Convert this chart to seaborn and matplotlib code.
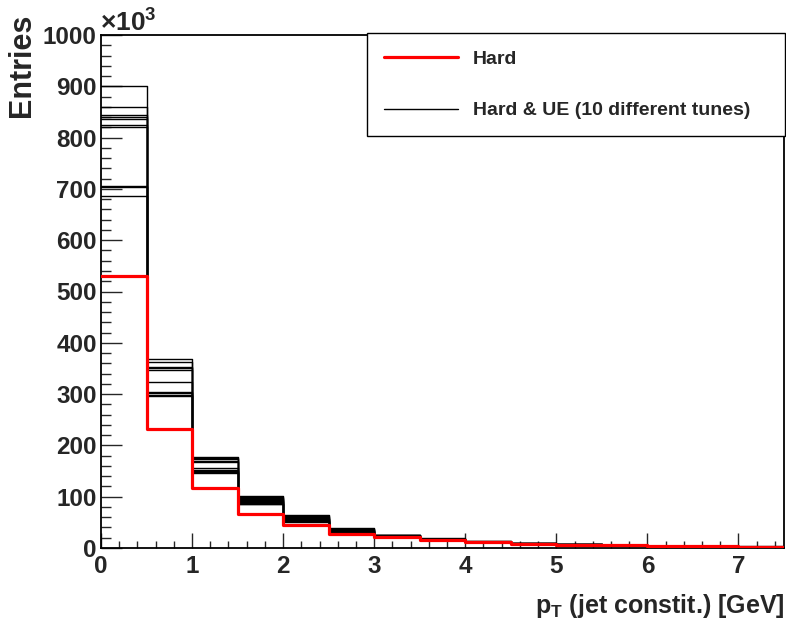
import numpy as np
import pandas as pd
import matplotlib
matplotlib.use("Agg")
import matplotlib.pyplot as plt
from matplotlib.ticker import MultipleLocator, FixedLocator, FixedFormatter
from matplotlib.lines import Line2D
import seaborn as sns

# ---------------- data (entries in units of 10^3) ----------------
bin_edges = [0.0, 0.5, 1.0, 1.5, 2.0, 2.5, 3.0, 3.5, 4.0, 4.5, 5.0, 5.5, 6.0, 6.5, 7.0, 7.5]

hard = [530, 231, 117, 67, 45, 28, 21, 15.5, 11, 7.5, 6, 5, 4, 3, 2.2]

tune_01 = [900, 368, 177, 101, 64, 39, 26.0, 19.0, 13.0, 9.5, 7.5, 6.0, 4.8, 3.8, 3.0]
tune_02 = [860, 362, 175, 99, 62, 38, 25.5, 18.5, 13.0, 9.5, 7.5, 6.0, 4.6, 3.7, 2.9]
tune_03 = [845, 353, 173, 97, 60, 37, 25.0, 18.0, 12.5, 9.0, 7.0, 5.5, 4.5, 3.6, 2.9]
tune_04 = [841, 350, 170, 95, 59, 36, 24.5, 18.0, 12.5, 9.0, 7.0, 5.5, 4.4, 3.5, 2.8]
tune_05 = [836, 347, 168, 93, 57, 35, 24.0, 17.5, 12.0, 9.0, 7.0, 5.5, 4.3, 3.5, 2.8]
tune_06 = [824, 323, 155, 91, 56, 34, 23.5, 17.5, 12.0, 8.5, 7.0, 5.5, 4.3, 3.4, 2.7]
tune_07 = [820, 305, 153, 89, 55, 33, 23.0, 17.0, 12.0, 8.5, 6.5, 5.5, 4.2, 3.4, 2.7]
tune_08 = [706, 302, 150, 87, 53, 33, 22.5, 17.0, 11.5, 8.5, 6.5, 5.0, 4.2, 3.3, 2.6]
tune_09 = [703, 299, 148, 86, 52, 32, 22.0, 16.5, 11.5, 8.0, 6.5, 5.0, 4.1, 3.3, 2.6]
tune_10 = [686, 297, 146, 85, 51, 32, 22.0, 16.5, 11.5, 8.0, 6.5, 5.0, 4.1, 3.2, 2.5]

y_ticks = [0, 100, 200, 300, 400, 500, 600, 700, 800, 900, 1000]
x_ticks = [0, 1, 2, 3, 4, 5, 6, 7]

legend_labels = ["Hard", "Hard & UE (10 different tunes)"]
x_title = r"$\mathbf{p_{T}}$ (jet constit.) [GeV]"
y_title = "Entries"

# ---------------- build tables ----------------
edges = np.array(bin_edges)
centers = 0.5 * (edges[:-1] + edges[1:])
tunes = [tune_01, tune_02, tune_03, tune_04, tune_05,
         tune_06, tune_07, tune_08, tune_09, tune_10]
rows = []
for i, t in enumerate(tunes):
    for c, v in zip(centers, t):
        rows.append({"pt": c, "entries": v, "tune": f"tune {i+1}"})
df_tunes = pd.DataFrame(rows)
df_hard = pd.DataFrame({"pt": centers, "entries": hard})

# ---------------- style ----------------
sns.set_style("white")
plt.rcParams["font.family"] = ["Liberation Sans", "DejaVu Sans"]
plt.rcParams["font.weight"] = "bold"
plt.rcParams["mathtext.fontset"] = "custom"
plt.rcParams["mathtext.rm"] = "Liberation Sans:bold"
plt.rcParams["mathtext.bf"] = "Liberation Sans:bold"
plt.rcParams["mathtext.it"] = "Liberation Sans:bold"

W, H = 786, 624
fig = plt.figure(figsize=(W / 100, H / 100), dpi=100)
ax = fig.add_axes([101 / W, (H - 548) / H, (784 - 101) / W, (548 - 35) / H])

sns.histplot(data=df_tunes, x="pt", weights="entries", hue="tune", bins=bin_edges,
             element="step", fill=False, palette=["black"] * len(tunes),
             legend=False, linewidth=1.0, ax=ax)
sns.histplot(data=df_hard, x="pt", weights="entries", bins=bin_edges,
             element="step", fill=False, color="#ff0000", linewidth=2.3, ax=ax,
             zorder=5)

ax.set_xlim(0, 7.5)
ax.set_ylim(0, 1000)
ax.set_xlabel("")
ax.set_ylabel("")

ax.yaxis.set_major_locator(FixedLocator(y_ticks))
ax.yaxis.set_major_formatter(FixedFormatter([str(v) for v in y_ticks]))
ax.yaxis.set_minor_locator(MultipleLocator(20))
ax.xaxis.set_major_locator(FixedLocator(x_ticks))
ax.xaxis.set_major_formatter(FixedFormatter([str(v) for v in x_ticks]))
ax.xaxis.set_minor_locator(MultipleLocator(0.2))

ax.tick_params(axis="y", which="major", direction="in", length=14.8, width=1.0,
               labelsize=17.5, pad=3, left=True, right=False)
ax.tick_params(axis="y", which="minor", direction="in", length=7.4, width=1.0,
               left=True, right=False)
ax.tick_params(axis="x", which="major", direction="in", length=10.8, width=1.0,
               labelsize=17.5, pad=5, bottom=True, top=False)
ax.tick_params(axis="x", which="minor", direction="in", length=5.4, width=1.0,
               bottom=True, top=False)
for lab in ax.get_xticklabels() + ax.get_yticklabels():
    lab.set_fontweight("bold")

for s in ax.spines.values():
    s.set_color("black")
    s.set_linewidth(1.3)
    s.set_visible(True)

# axis titles and exponent
fig.text(22 / W, 1 - 14 / H, y_title, rotation=90, ha="center", va="top",
         fontsize=22, fontweight="bold")
fig.text(785 / W, (H - 613) / H, x_title, ha="right", va="baseline",
         fontsize=18, fontweight="bold")
fig.text(100 / W, (H - 32) / H, r"$\times10^{3}$", ha="left", va="baseline",
         fontsize=19)

# legend
handles = [Line2D([], [], color="#ff0000", lw=2.3),
           Line2D([], [], color="black", lw=1.0)]
leg = ax.legend(handles, legend_labels, loc="upper left",
                bbox_to_anchor=(0.3895, 0.805, 0.6125, 0.199), mode="expand",
                borderaxespad=0, frameon=True, fancybox=False, framealpha=1,
                edgecolor="black", facecolor="white",
                borderpad=0.88, labelspacing=1.75, handlelength=3.8,
                handletextpad=0.75, prop={"weight": "bold", "size": 14})
leg.get_frame().set_linewidth(1.0)
leg.set_zorder(10)

fig.savefig("out.png", dpi=100)
